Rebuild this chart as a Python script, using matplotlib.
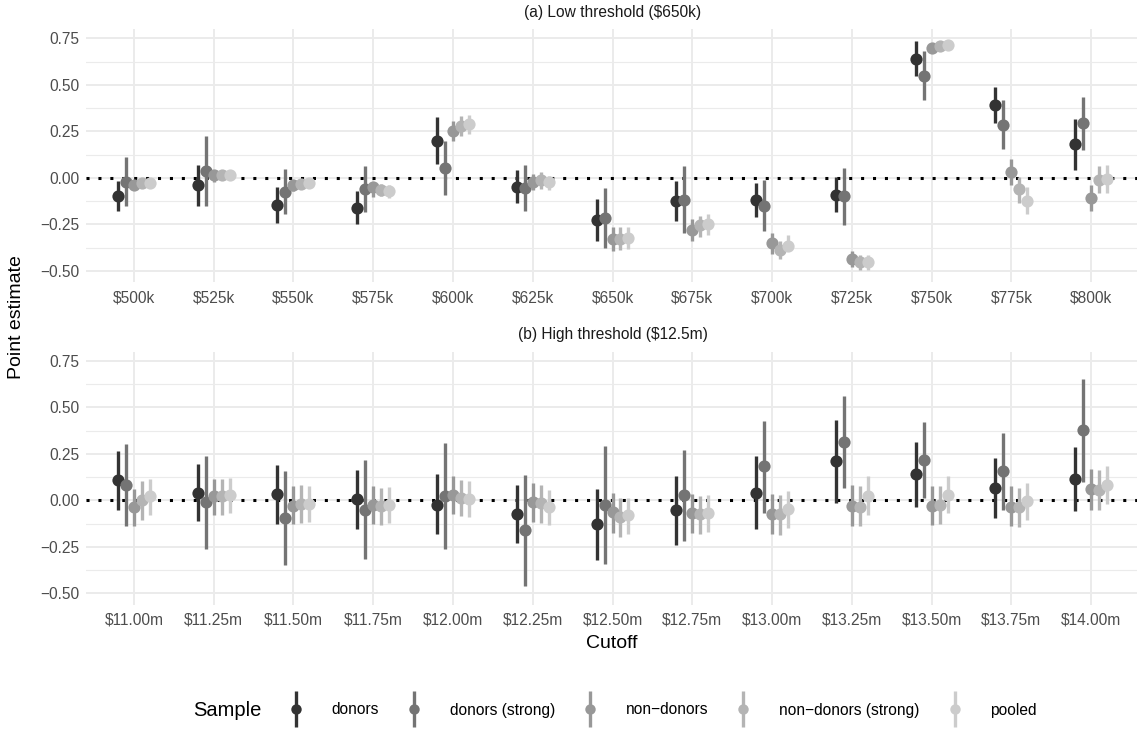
import numpy as np
import matplotlib
matplotlib.use('Agg')
import matplotlib.pyplot as plt
from matplotlib.lines import Line2D
from matplotlib.ticker import MultipleLocator

plt.rcParams['font.family'] = ['Liberation Sans', 'DejaVu Sans']

# 数据：两个阈值下的断点估计，五个样本
samples = ['donors', 'donors (strong)', 'non\u2212donors', 'non\u2212donors (strong)', 'pooled']
colors = ['#333333', '#747474', '#989898', '#B4B4B4', '#CCCCCC']

low_cutoffs = ['$500k', '$525k', '$550k', '$575k', '$600k', '$625k', '$650k',
               '$675k', '$700k', '$725k', '$750k', '$775k', '$800k']
high_cutoffs = ['$11.00m', '$11.25m', '$11.50m', '$11.75m', '$12.00m', '$12.25m', '$12.50m',
                '$12.75m', '$13.00m', '$13.25m', '$13.50m', '$13.75m', '$14.00m']

# (a) 低阈值，每行一个样本
low_est = [
    [-0.10, -0.04, -0.145, -0.16, 0.20, -0.047, -0.226, -0.124, -0.12, -0.091, 0.64, 0.392, 0.181],
    [-0.025, 0.038, -0.075, -0.061, 0.052, -0.056, -0.215, -0.118, -0.149, -0.10, 0.55, 0.285, 0.294],
    [-0.04, 0.013, -0.041, -0.047, 0.254, -0.023, -0.328, -0.28, -0.351, -0.435, 0.70, 0.032, -0.109],
    [-0.029, 0.013, -0.034, -0.068, 0.281, -0.014, -0.328, -0.256, -0.387, -0.453, 0.706, -0.061, -0.011],
    [-0.029, 0.016, -0.029, -0.073, 0.289, -0.023, -0.324, -0.247, -0.364, -0.453, 0.713, -0.124, -0.004],
]
low_lo = [
    [-0.18, -0.149, -0.244, -0.249, 0.075, -0.136, -0.342, -0.231, -0.211, -0.184, 0.545, 0.294, 0.041],
    [-0.154, -0.154, -0.195, -0.186, -0.095, -0.177, -0.378, -0.294, -0.285, -0.256, 0.419, 0.154, 0.151],
    [-0.068, -0.02, -0.07, -0.104, 0.20, -0.065, -0.391, -0.337, -0.41, -0.477, 0.69, -0.036, -0.176],
    [-0.055, -0.012, -0.06, -0.10, 0.227, -0.059, -0.39, -0.316, -0.437, -0.495, 0.695, -0.133, -0.084],
    [-0.055, -0.008, -0.055, -0.11, 0.236, -0.065, -0.385, -0.306, -0.392, -0.495, 0.703, -0.197, -0.08],
]
low_hi = [
    [-0.016, 0.07, -0.05, -0.07, 0.326, 0.043, -0.113, -0.016, -0.03, 0.002, 0.733, 0.49, 0.317],
    [0.11, 0.226, 0.047, 0.066, 0.199, 0.07, -0.056, 0.061, -0.011, 0.052, 0.683, 0.416, 0.437],
    [-0.011, 0.034, -0.015, -0.02, 0.308, 0.02, -0.265, -0.221, -0.297, -0.392, 0.71, 0.10, -0.041],
    [-0.003, 0.036, -0.008, -0.035, 0.333, 0.029, -0.265, -0.203, -0.337, -0.414, 0.717, 0.007, 0.065],
    [-0.003, 0.04, -0.003, -0.04, 0.338, 0.011, -0.265, -0.195, -0.31, -0.414, 0.723, -0.05, 0.068],
]

# (b) 高阈值
high_est = [
    [0.108, 0.041, 0.032, 0.005, -0.023, -0.072, -0.129, -0.054, 0.041, 0.21, 0.14, 0.066, 0.117],
    [0.084, -0.009, -0.095, -0.05, 0.023, -0.161, -0.027, 0.027, 0.183, 0.314, 0.215, 0.158, 0.376],
    [-0.036, 0.023, -0.03, -0.023, 0.031, -0.009, -0.063, -0.068, -0.072, -0.03, -0.03, -0.036, 0.059],
    [0.0, 0.023, -0.018, -0.03, 0.013, -0.014, -0.09, -0.075, -0.072, -0.036, -0.027, -0.036, 0.057],
    [0.023, 0.031, -0.018, -0.027, 0.005, -0.036, -0.081, -0.068, -0.048, 0.023, 0.031, -0.004, 0.084],
]
high_lo = [
    [-0.05, -0.111, -0.125, -0.152, -0.183, -0.229, -0.323, -0.242, -0.156, -0.013, -0.036, -0.095, -0.057],
    [-0.136, -0.26, -0.346, -0.314, -0.263, -0.461, -0.344, -0.219, -0.066, 0.066, 0.013, -0.05, 0.098],
    [-0.136, -0.077, -0.125, -0.125, -0.074, -0.116, -0.174, -0.174, -0.179, -0.138, -0.131, -0.14, -0.05],
    [-0.108, -0.077, -0.12, -0.131, -0.084, -0.12, -0.197, -0.179, -0.185, -0.138, -0.125, -0.143, -0.054],
    [-0.077, -0.066, -0.116, -0.12, -0.09, -0.131, -0.179, -0.17, -0.149, -0.081, -0.066, -0.108, -0.018],
]
high_hi = [
    [0.265, 0.194, 0.192, 0.165, 0.14, 0.084, 0.063, 0.131, 0.237, 0.434, 0.314, 0.229, 0.287],
    [0.301, 0.238, 0.156, 0.219, 0.31, 0.138, 0.292, 0.272, 0.425, 0.561, 0.421, 0.364, 0.65],
    [0.063, 0.117, 0.075, 0.079, 0.131, 0.093, 0.039, 0.032, 0.036, 0.081, 0.075, 0.075, 0.17],
    [0.102, 0.117, 0.081, 0.066, 0.108, 0.081, 0.014, 0.022, 0.027, 0.075, 0.077, 0.068, 0.165],
    [0.117, 0.122, 0.075, 0.072, 0.102, 0.057, 0.014, 0.027, 0.05, 0.129, 0.129, 0.095, 0.184],
]

W, H = 1137, 731
fig = plt.figure(figsize=(W / 100, H / 100), dpi=100)

left, width = 86 / W, 1053 / W
ax_top = fig.add_axes([left, (H - 282) / H, width, 253 / H])
ax_bot = fig.add_axes([left, (H - 604.5) / H, width, 253 / H])

dodge = [-0.2, -0.1, 0.0, 0.1, 0.2]


def draw_panel(ax, cutoffs, est, lo, hi, title):
    x = np.arange(1, len(cutoffs) + 1)
    ax.axhline(0, color='black', lw=2.2, linestyle=(0, (1, 2.9)), zorder=2)
    for k in range(len(samples)):
        xs = x + dodge[k]
        ax.vlines(xs, lo[k], hi[k], color=colors[k], lw=2.4, zorder=3)
    for k in range(len(samples)):
        xs = x + dodge[k]
        ax.plot(xs, est[k], 'o', color=colors[k], ms=8.8, mew=0, zorder=4 + k)
    ax.set_xlim(0.4, len(cutoffs) + 0.6)
    ax.set_ylim(-0.56, 0.80)
    ax.set_xticks(x)
    ax.set_xticklabels(cutoffs)
    ax.set_yticks([-0.5, -0.25, 0, 0.25, 0.5, 0.75])
    ax.set_yticklabels(['\u22120.50', '\u22120.25', '0.00', '0.25', '0.50', '0.75'])
    ax.yaxis.set_minor_locator(MultipleLocator(0.125))
    ax.grid(True, which='major', color='#EBEBEB', lw=1.4, zorder=0)
    ax.grid(True, which='minor', axis='y', color='#EBEBEB', lw=0.8, zorder=0)
    ax.set_axisbelow(True)
    for s in ax.spines.values():
        s.set_visible(False)
    ax.tick_params(which='both', length=0, labelsize=11.2, labelcolor='#4D4D4D')
    ax.tick_params(axis='x', pad=6)
    ax.tick_params(axis='y', pad=5)
    ax.set_title(title, fontsize=11.2, color='#1A1A1A', pad=9)


draw_panel(ax_top, low_cutoffs, low_est, low_lo, low_hi, '(a) Low threshold ($650k)')
draw_panel(ax_bot, high_cutoffs, high_est, high_lo, high_hi, '(b) High threshold ($12.5m)')

fig.text(17 / W, 1 - 316.8 / H, 'Point estimate', rotation=90, ha='center', va='center', fontsize=14)
fig.text(612 / W, 1 - 643 / H, 'Cutoff', ha='center', va='center', fontsize=14)

# 图例：竖线加圆点
handles = []
for c in colors:
    bar = Line2D([], [], marker='|', linestyle='none', color=c, markersize=26, markeredgewidth=2.4)
    dot = Line2D([], [], marker='o', linestyle='none', color=c, markersize=7.5, mew=0)
    handles.append((bar, dot))
fig.text(193 / W, 1 - 710 / H, 'Sample', ha='left', va='center', fontsize=14.5)
fig.legend(handles, samples, loc='center left', bbox_to_anchor=((296 - 9.3) / W, 1 - 710 / H),
           ncol=5, frameon=False, fontsize=11.2, handlelength=1.2, handletextpad=1.7,
           columnspacing=1.65, borderpad=0, borderaxespad=0)

fig.savefig('out.png', dpi=100)
